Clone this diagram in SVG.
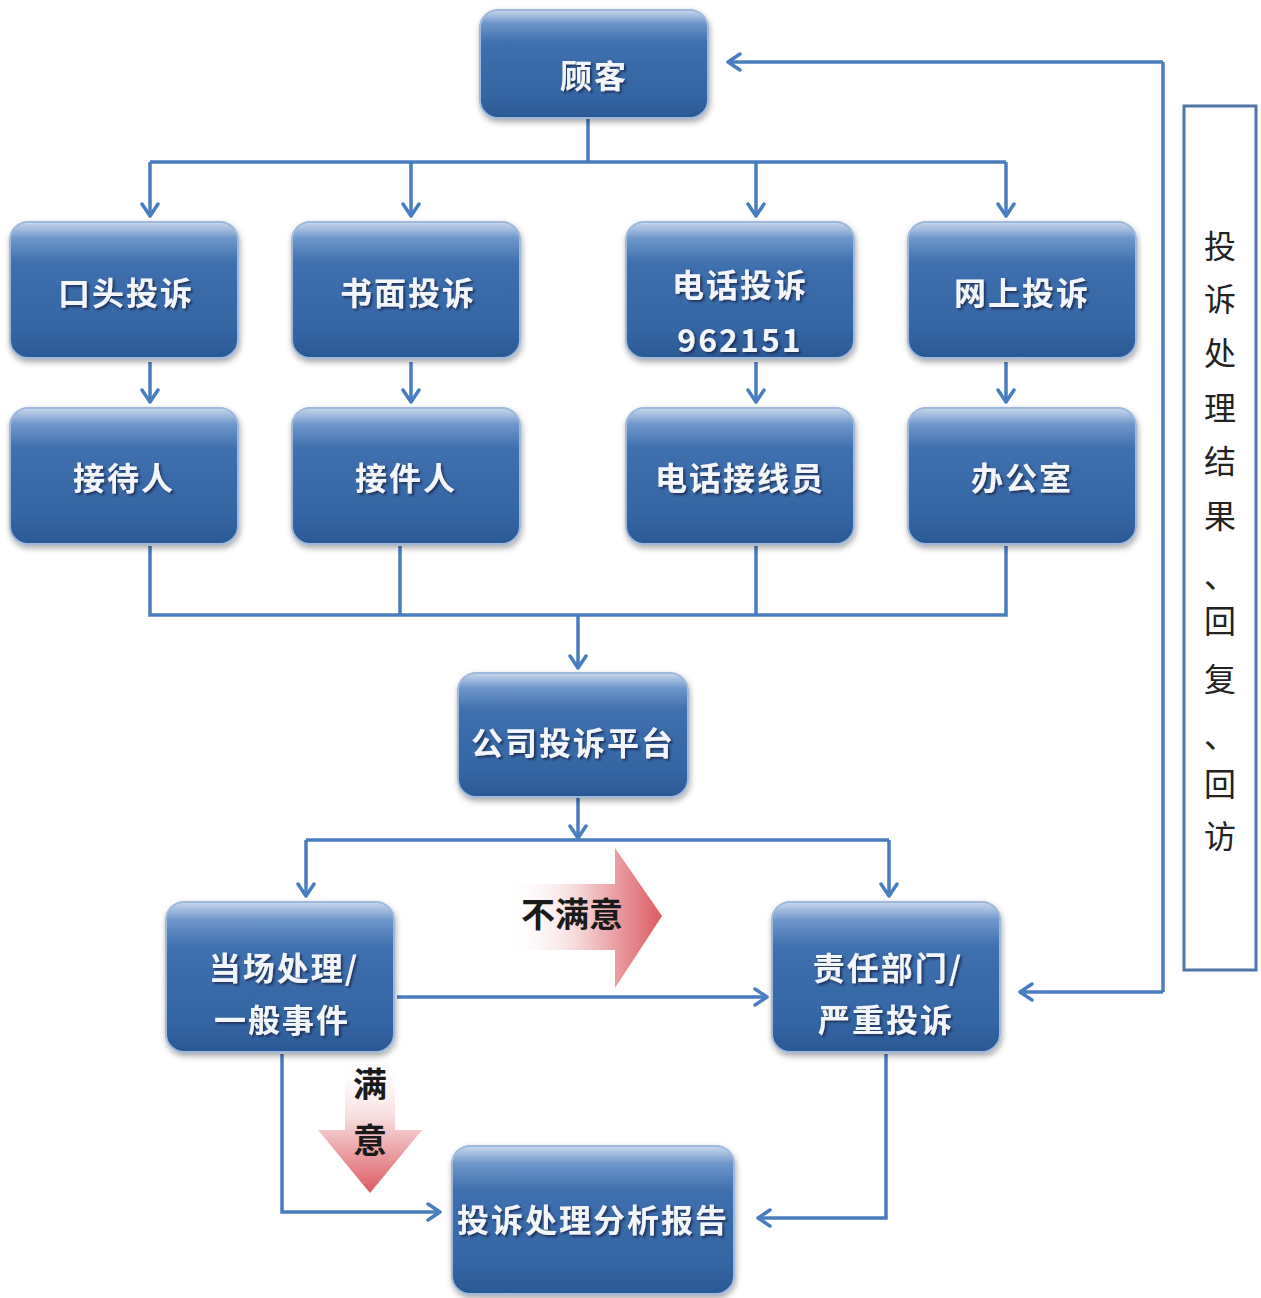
<svg xmlns="http://www.w3.org/2000/svg" width="1261" height="1298" viewBox="0 0 1261 1298">
<defs>
<linearGradient id="nodeG" x1="0" y1="0" x2="0" y2="1">
<stop offset="0" stop-color="#c9d8ec"/>
<stop offset="0.12" stop-color="#6f97cb"/>
<stop offset="0.3" stop-color="#3f6fae"/>
<stop offset="0.8" stop-color="#3465a3"/>
<stop offset="1" stop-color="#2b5894"/>
</linearGradient>
<linearGradient id="redR" x1="0" y1="0" x2="1" y2="0">
<stop offset="0" stop-color="#ffffff" stop-opacity="0"/>
<stop offset="0.45" stop-color="#f6dadb"/>
<stop offset="1" stop-color="#dc5a63"/>
</linearGradient>
<linearGradient id="redD" x1="0" y1="0" x2="0" y2="1">
<stop offset="0" stop-color="#ffffff" stop-opacity="0"/>
<stop offset="0.45" stop-color="#f6dadb"/>
<stop offset="1" stop-color="#dc5a63"/>
</linearGradient>
<filter id="sh" x="-10%" y="-10%" width="120%" height="125%">
<feGaussianBlur in="SourceAlpha" stdDeviation="3"/>
<feOffset dx="1" dy="3" result="b"/>
<feComponentTransfer><feFuncA type="linear" slope="0.35"/></feComponentTransfer>
<feMerge><feMergeNode/><feMergeNode in="SourceGraphic"/></feMerge>
</filter>
<filter id="tsh" x="-10%" y="-10%" width="130%" height="140%">
<feDropShadow dx="2" dy="2" stdDeviation="1" flood-color="#1a2f55" flood-opacity="0.9"/>
</filter>
<marker id="ah" viewBox="0 0 20 20" refX="17" refY="10" markerWidth="20" markerHeight="20" markerUnits="userSpaceOnUse" orient="auto">
<path d="M5,2 L17,10 L5,18" fill="none" stroke="#4a7dbf" stroke-width="3.5" stroke-linecap="round" stroke-linejoin="round"/>
</marker>
</defs>
<style>
.n rect{fill:url(#nodeG);stroke:#9fb9dc;stroke-width:2;filter:url(#sh)}
.n text{font-family:"Noto Sans CJK SC","Noto Sans CJK TC",sans-serif;font-size:32px;font-weight:600;fill:#f2f5fa;text-anchor:middle;filter:url(#tsh);letter-spacing:2px}
.c path{fill:none;stroke:#4a7dbf;stroke-width:3.5}
.c .a{marker-end:url(#ah)}
.lbl{font-family:"Noto Sans CJK SC",sans-serif;font-size:34px;font-weight:600;fill:#1a1a1a;text-anchor:middle}
.side{font-family:"Noto Sans CJK SC",sans-serif;font-size:32px;fill:#222;text-anchor:middle}
</style>
<rect width="1261" height="1298" fill="#ffffff"/>

<g class="c" id="connectors">
<path d="M588,118 V162"/>
<path d="M150,162 H1006"/>
<path class="a" d="M150,162 V216"/>
<path class="a" d="M411,162 V216"/>
<path class="a" d="M756,162 V216"/>
<path class="a" d="M1006,162 V216"/>
<path class="a" d="M150,362 V402"/>
<path class="a" d="M411,362 V402"/>
<path class="a" d="M756,362 V402"/>
<path class="a" d="M1006,362 V402"/>
<path d="M150,546 V615 H1006 V546"/>
<path d="M400,546 V615"/>
<path d="M756,546 V615"/>
<path class="a" d="M578,615 V668"/>
<path class="a" d="M578,798 V838"/>
<path d="M306,840 H889"/>
<path class="a" d="M306,840 V896"/>
<path class="a" d="M889,840 V896"/>
<path class="a" d="M397,997 H767"/>
<path class="a" d="M282,1054 V1212 H440"/>
<path class="a" d="M886,1054 V1218 H758"/>
<path class="a" d="M1163,62 H728"/>
<path d="M1163,62 V992"/>
<path class="a" d="M1163,992 H1020"/>
</g>

<g id="arrow-unsatisfied">
<path d="M505,884 H615 V848 L662,916 L615,988 V950 H505 Z" fill="url(#redR)"/>
<text class="lbl" x="572" y="927">不满意</text>
</g>
<g id="arrow-satisfied">
<path d="M345,1058 H395 V1130 H422 L370,1193 L318,1130 H345 Z" fill="url(#redD)"/>
<text class="lbl" x="370" y="1097">满</text>
<text class="lbl" x="370" y="1153">意</text>
</g>

<g class="n" id="n-customer"><rect x="480" y="10" width="228" height="108" rx="18"/><text x="594" y="88">顾客</text></g>
<g class="n" id="n-oral"><rect x="10" y="222" width="228" height="136" rx="18"/><text x="126" y="305">口头投诉</text></g>
<g class="n" id="n-written"><rect x="292" y="222" width="228" height="136" rx="18"/><text x="408" y="305">书面投诉</text></g>
<g class="n" id="n-phone"><rect x="626" y="222" width="228" height="136" rx="18"/><text x="740" y="297">电话投诉</text><text x="740" y="352">962151</text></g>
<g class="n" id="n-online"><rect x="908" y="222" width="228" height="136" rx="18"/><text x="1022" y="305">网上投诉</text></g>
<g class="n" id="n-receptionist"><rect x="10" y="408" width="228" height="136" rx="18"/><text x="124" y="490">接待人</text></g>
<g class="n" id="n-receiver"><rect x="292" y="408" width="228" height="136" rx="18"/><text x="406" y="490">接件人</text></g>
<g class="n" id="n-operator"><rect x="626" y="408" width="228" height="136" rx="18"/><text x="740" y="490">电话接线员</text></g>
<g class="n" id="n-office"><rect x="908" y="408" width="228" height="136" rx="18"/><text x="1022" y="490">办公室</text></g>
<g class="n" id="n-platform"><rect x="458" y="673" width="230" height="124" rx="18"/><text x="573" y="755">公司投诉平台</text></g>
<g class="n" id="n-onsite"><rect x="166" y="902" width="228" height="150" rx="18"/><text x="284" y="980">当场处理/</text><text x="282" y="1032">一般事件</text></g>
<g class="n" id="n-dept"><rect x="772" y="902" width="228" height="150" rx="18"/><text x="888" y="980">责任部门/</text><text x="886" y="1032">严重投诉</text></g>
<g class="n" id="n-report"><rect x="452" y="1146" width="282" height="148" rx="18"/><text x="593" y="1232">投诉处理分析报告</text></g>

<g id="side-box">
<rect x="1184" y="106" width="72" height="864" fill="#ffffff" stroke="#4f74a8" stroke-width="3"/>
<text class="side" x="1220" y="258">投</text>
<text class="side" x="1220" y="311">诉</text>
<text class="side" x="1220" y="365">处</text>
<text class="side" x="1220" y="420">理</text>
<text class="side" x="1220" y="473">结</text>
<text class="side" x="1220" y="528">果</text>
<text class="side" x="1220" y="588">、</text>
<text class="side" x="1220" y="633">回</text>
<text class="side" x="1220" y="691">复</text>
<text class="side" x="1220" y="748">、</text>
<text class="side" x="1220" y="796">回</text>
<text class="side" x="1220" y="848">访</text>
</g>
</svg>
